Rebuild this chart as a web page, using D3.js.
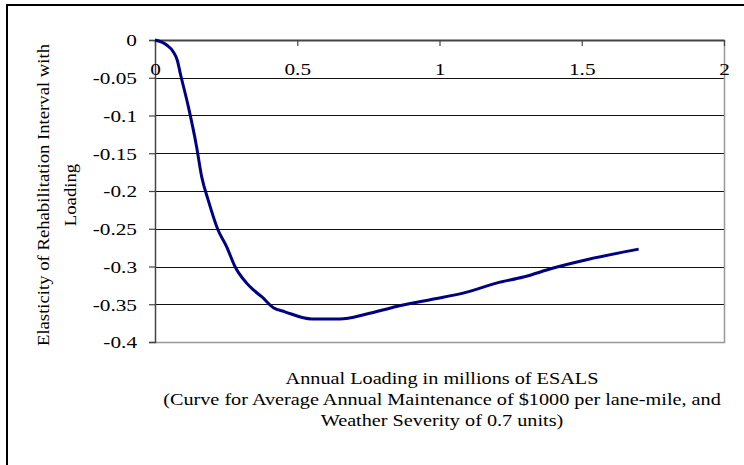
<!DOCTYPE html>
<html><head><meta charset="utf-8">
<script src="https://cdn.jsdelivr.net/npm/d3@7"></script>
<style>
html,body{margin:0;padding:0;background:#fff;}
svg{display:block;}
text{font-family:"Liberation Serif","Times New Roman",serif;fill:#000;}
</style></head>
<body>
<script>
// Data
const loading = [0, 0.041, 0.064, 0.078, 0.09, 0.117, 0.146, 0.164, 0.187, 0.222, 0.252, 0.281, 0.322, 0.346, 0.375, 0.416, 0.457, 0.551, 0.650, 0.744, 0.849, 0.967, 1.096, 1.20, 1.295, 1.40, 1.517, 1.70];
const elasticity = [0, -0.0066, -0.0155, -0.0265, -0.046, -0.088, -0.141, -0.181, -0.212, -0.252, -0.274, -0.300, -0.322, -0.331, -0.340, -0.3545, -0.360, -0.3695, -0.3695, -0.363, -0.353, -0.344, -0.334, -0.322, -0.314, -0.302, -0.291, -0.277];
const xTicks = [0, 0.5, 1, 1.5, 2];
const xTickLabels = ["0", "0.5", "1", "1.5", "2"];
const yTicks = [0, -0.05, -0.1, -0.15, -0.2, -0.25, -0.3, -0.35, -0.4];
const yTickLabels = ["0", "-0.05", "-0.1", "-0.15", "-0.2", "-0.25", "-0.3", "-0.35", "-0.4"];
const yTitle = ["Elasticity of Rehabilitation Interval with", "Loading"];
const xTitle = ["Annual Loading in millions of ESALS", "(Curve for Average Annual Maintenance of $1000 per lane-mile, and", "Weather Severity of 0.7 units)"];

const W = 744, H = 465;
const FS = 17;          // font size
const SX_TICK = 1.25;   // horizontal stretch of tick labels
const SX_TITLE = 1.19;  // horizontal stretch of titles

const svg = d3.select("body").append("svg").attr("width", W).attr("height", H);

// outer frame
svg.append("rect").attr("x", 7).attr("y", 5).attr("width", 760).attr("height", 480)
  .attr("fill", "none").attr("stroke", "#000").attr("stroke-width", 2);

const L = 155, R = 724, T = 40, B = 342;
const x = d3.scaleLinear().domain([0, 2]).range([L, R]);
const y = d3.scaleLinear().domain([0, -0.4]).range([T, B]);

// gridlines
svg.append("g").selectAll("line").data(yTicks.filter(d => d !== 0 && d !== -0.4)).join("line")
  .attr("x1", L).attr("x2", R).attr("y1", d => Math.round(y(d)) + 0.5).attr("y2", d => Math.round(y(d)) + 0.5)
  .attr("stroke", "#111").attr("stroke-width", 1);

// plot border (right & bottom, gray)
svg.append("path").attr("d", `M${R + 0.5},${T}V${B + 0.5}H${L}`)
  .attr("fill", "none").attr("stroke", "#999").attr("stroke-width", 1.5);

// y axis
const yAxis = d3.axisLeft(y).tickValues(yTicks).tickFormat((d, i) => yTickLabels[i]).tickSize(6).tickPadding(12);
const gy = svg.append("g").attr("transform", `translate(${L},0)`).call(yAxis);
gy.select(".domain").attr("stroke", "#444").attr("stroke-width", 1.5);
gy.selectAll(".tick line").attr("stroke", "#444").attr("stroke-width", 1.2);
gy.selectAll("text").attr("font-size", FS).attr("font-family", "Liberation Serif")
  .attr("dy", "0.35em").attr("x", -18 / SX_TICK).attr("transform", `scale(${SX_TICK},1)`);

// x axis along y=0 (top), ticks pointing down into plot, labels below
const xAxis = d3.axisBottom(x).tickValues(xTicks).tickFormat((d, i) => xTickLabels[i]).tickSizeInner(6).tickSizeOuter(0).tickPadding(17);
const gx = svg.append("g").attr("transform", `translate(0,${T})`).call(xAxis);
gx.select(".domain").attr("stroke", "#444").attr("stroke-width", 2);
gx.selectAll(".tick line").attr("stroke", "#444").attr("stroke-width", 1.2);
gx.selectAll("text").attr("font-size", FS).attr("font-family", "Liberation Serif")
  .attr("transform", `scale(${SX_TICK},1)`);

// curve
const pts = loading.map((v, i) => [v, elasticity[i]]);
svg.append("path").datum(pts)
  .attr("d", d3.line().x(d => x(d[0])).y(d => y(d[1])).curve(d3.curveMonotoneX))
  .attr("fill", "none").attr("stroke", "#000080").attr("stroke-width", 3).attr("stroke-linejoin", "round");

// y title (rotated, stretched along its reading direction)
[49, 76].forEach((bx, i) => {
  svg.append("text")
    .attr("transform", `translate(${bx},195) rotate(-90) scale(1.1,1)`)
    .attr("text-anchor", "middle").attr("font-size", FS).text(yTitle[i]);
});

// x title
[384, 405, 426].forEach((by, i) => {
  svg.append("text").attr("transform", `translate(442,${by}) scale(${SX_TITLE},1)`)
    .attr("text-anchor", "middle").attr("font-size", FS).text(xTitle[i]);
});
</script>
</body></html>
